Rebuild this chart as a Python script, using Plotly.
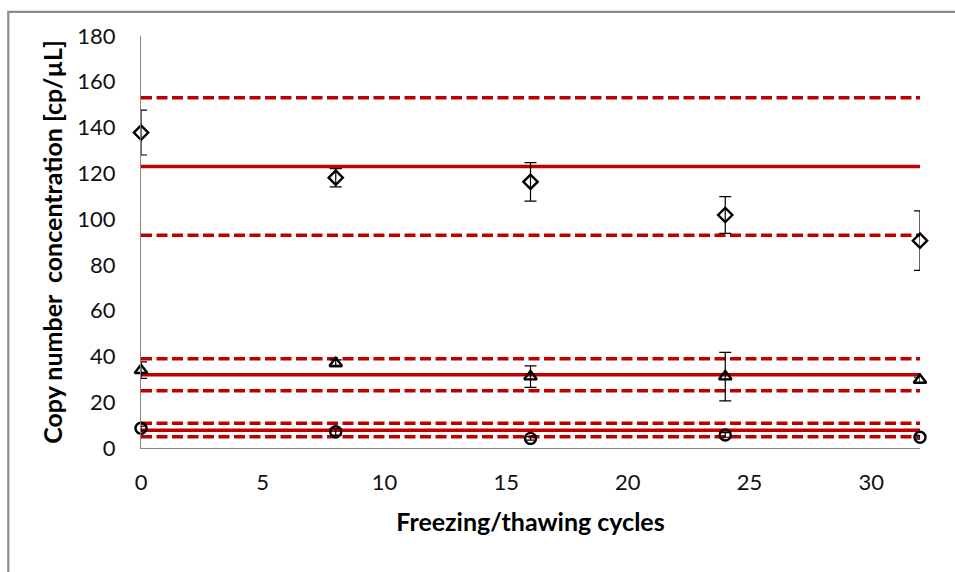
import plotly.graph_objects as go

# ---- data ----
cycles = [0, 8, 16, 24, 32]

high_vals = [137.8, 118.1, 116.3, 101.8, 90.6]
high_err = [9.8, 4.0, 8.4, 8.0, 13.0]

mid_vals = [34.0, 37.0, 31.2, 31.2, 29.7]
mid_err = [3.6, 1.5, 4.7, 10.6, 1.2]

low_vals = [8.6, 7.1, 4.2, 5.7, 4.7]
low_err = [1.0, 1.5, 0.8, 1.0, 0.8]

line_x = [0, 32]
high_limits = {"mean": 123.0, "upper": 153.0, "lower": 93.0}
mid_limits = {"mean": 32.0, "upper": 39.0, "lower": 25.0}
low_limits = {"mean": 7.8, "upper": 10.8, "lower": 4.9}

x_ticks = [0, 5, 10, 15, 20, 25, 30]
y_ticks = [0, 20, 40, 60, 80, 100, 120, 140, 160, 180]

RED = "#C00000"
GRAY = "#868686"
FONT = "Lato"

fig = go.Figure()

for lim in (high_limits, mid_limits, low_limits):
    fig.add_trace(go.Scatter(x=line_x, y=[lim["upper"]] * 2, mode="lines",
                             line=dict(color=RED, width=3.5, dash="11px,4.5px"),
                             hoverinfo="skip", showlegend=False))
    fig.add_trace(go.Scatter(x=line_x, y=[lim["lower"]] * 2, mode="lines",
                             line=dict(color=RED, width=3.5, dash="11px,4.5px"),
                             hoverinfo="skip", showlegend=False))
    fig.add_trace(go.Scatter(x=line_x, y=[lim["mean"]] * 2, mode="lines",
                             line=dict(color=RED, width=3.5),
                             hoverinfo="skip", showlegend=False))

for vals, errs, sym in ((high_vals, high_err, "diamond-open"),
                        (mid_vals, mid_err, "triangle-up-open"),
                        (low_vals, low_err, "circle-open")):
    fig.add_trace(go.Scatter(
        x=cycles, y=vals, mode="markers",
        marker=dict(symbol=sym, size=11, color="black", line=dict(width=2.4, color="black")),
        error_y=dict(type="data", array=errs, visible=True, color="black",
                     thickness=1.2, width=6),
        cliponaxis=False, showlegend=False))

# plot area in pixels: x 141..920, y 36..448
L, R, T, B = 141, 35, 36, 124
W, H = 955, 572
pw, ph = W - L - R, H - T - B

def px_x(p):
    return (p - L) / pw

def px_y(p):
    return (H - B - p) / ph

fig.add_shape(type="rect", xref="paper", yref="paper",
              x0=px_x(8.3), x1=px_x(980), y0=px_y(11.8), y1=px_y(600),
              line=dict(color="#8C8C8C", width=2.2), fillcolor="rgba(0,0,0,0)",
              layer="below")

fig.update_layout(
    width=W, height=H,
    margin=dict(l=L, r=R, t=T, b=B, autoexpand=False),
    paper_bgcolor="white", plot_bgcolor="white",
    font=dict(family=FONT, color="black"),
    showlegend=False,
    xaxis=dict(
        range=[0, 32], tickvals=x_ticks, showgrid=False, zeroline=False,
        showline=True, linecolor=GRAY, linewidth=1,
        ticks="outside", ticklen=15, tickcolor="rgba(0,0,0,0)",
        tickfont=dict(family=FONT, size=22, color="#111111"),
        title=dict(text="<b>Freezing/thawing cycles</b>", standoff=19,
                   font=dict(family=FONT, size=25, color="black")),
    ),
    yaxis=dict(
        range=[0, 180], tickvals=y_ticks, showgrid=False, zeroline=False,
        showline=True, linecolor=GRAY, linewidth=1,
        ticks="outside", ticklen=20, tickcolor="rgba(0,0,0,0)",
        tickfont=dict(family=FONT, size=22, color="#111111"),
        title=dict(text="<b>Copy number \u00a0concentration [cp/µL]</b>", standoff=7,
                   font=dict(family=FONT, size=25, color="black")),
    ),
)

fig.write_html("out.html")
